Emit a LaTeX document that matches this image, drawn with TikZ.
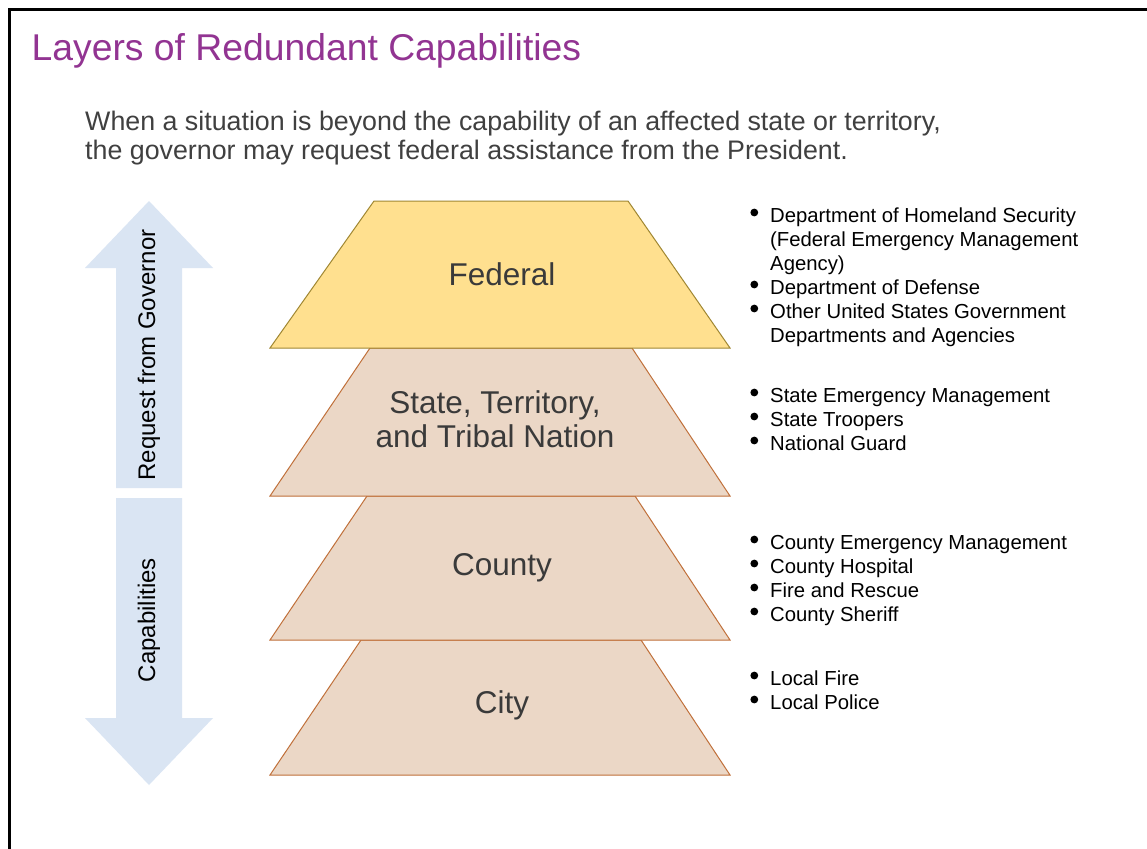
\documentclass[tikz,border=0pt]{standalone}
\usepackage{fontspec}
\setmainfont{Liberation Sans}
\definecolor{titlepurple}{RGB}{146,52,146}
\definecolor{subgray}{RGB}{64,64,64}
\definecolor{labelgray}{RGB}{58,58,58}
\definecolor{arrowblue}{RGB}{218,229,243}
\definecolor{fedfill}{RGB}{255,224,143}
\definecolor{fedline}{RGB}{160,135,50}
\definecolor{lvlfill}{RGB}{235,215,198}
\definecolor{lvlline}{RGB}{192,112,58}
\newcommand{\myfs}[2]{\fontsize{#1}{#2}\selectfont}
\newcommand{\ind}{\hspace*{21pt}}
\tikzset{
  fedtrap/.style={fill=fedfill, draw=fedline, line width=1pt, line join=miter},
  lvltrap/.style={fill=lvlfill, draw=lvlline, line width=1pt, line join=miter},
  bigarrow/.style={fill=arrowblue, draw=none},
  levellabel/.style={anchor=base, inner sep=0pt, text=labelgray, font=\myfs{31.5}{34}},
  arrowlabel/.style={rotate=90, inner sep=0pt, text=black, font=\myfs{24}{28}},
  listnode/.style={anchor=base west, inner sep=0pt, text=black, font=\myfs{20.3}{24}},
  subtext/.style={anchor=base west, inner sep=0pt, text=subgray, font=\myfs{26.8}{30}},
  bulletdot/.style={fill=black}
}
\begin{document}
\begin{tikzpicture}[x=1pt,y=-1pt]
\useasboundingbox (0,0) rectangle (1147,848);
\clip (0,0) rectangle (1147,848);
\fill[white] (0,0) rectangle (1147,848);
% slide frame
\draw[line width=3pt, black] (9,900) -- (9,9.5) -- (1200,9.5);

% title and subtitle
\node[anchor=base west, inner sep=0pt, text=titlepurple, font=\myfs{37.3}{44}] (title) at (31.5,61) {Layers of Redundant Capabilities};
\node[subtext] (sub1) at (85,131) {When a situation is beyond the capability of an affected state or territory,};
\node[subtext] (sub2) at (85,159) {the governor may request federal assistance from the President.};

% side arrows
\fill[bigarrow] (149,201) -- (213,268) -- (182,268) -- (182,488) -- (116,488) -- (116,268) -- (85,268) -- cycle;
\fill[bigarrow] (116,498) -- (182,498) -- (182,718) -- (213,718) -- (149,785) -- (85,718) -- (116,718) -- cycle;
\node[arrowlabel] (req) at (149,355) {Request from Governor};
\node[arrowlabel] (cap) at (149,620) {Capabilities};

% levels (bottom first so upper outlines sit on top)
\draw[lvltrap] (361,640) -- (641,640) -- (730,775) -- (270,775) -- cycle;
\draw[lvltrap] (367,496) -- (635,496) -- (730,640) -- (270,640) -- cycle;
\draw[lvltrap] (370,348) -- (632,348) -- (730,496) -- (270,496) -- cycle;
\draw[fedtrap] (374,201) -- (628,201) -- (730,348) -- (270,348) -- cycle;

\node[levellabel] (federal) at (502,285) {Federal};
\node[levellabel] (state) at (495,413) {\begin{tabular}[t]{@{}c@{}}State, Territory,\\ and Tribal Nation\end{tabular}};
\node[levellabel] (county) at (502,575) {County};
\node[levellabel] (city) at (502,713) {City};

% lists
\node[listnode] (fedlist) at (749,222) {\begin{tabular}[t]{@{}l@{}}\ind Department of Homeland Security\\ \ind (Federal Emergency Management\\ \ind Agency)\\ \ind Department of Defense\\ \ind Other United States Government\\ \ind Departments and Agencies\end{tabular}};
\node[listnode] (statelist) at (749,402) {\begin{tabular}[t]{@{}l@{}}\ind State Emergency Management\\ \ind State Troopers\\ \ind National Guard\end{tabular}};
\node[listnode] (countylist) at (749,549) {\begin{tabular}[t]{@{}l@{}}\ind County Emergency Management\\ \ind County Hospital\\ \ind Fire and Rescue\\ \ind County Sheriff\end{tabular}};
\node[listnode] (citylist) at (749,685) {\begin{tabular}[t]{@{}l@{}}\ind Local Fire\\ \ind Local Police\end{tabular}};

% bullets
\foreach \by in {222,294,318,402,426,450,549,573,597,621,685,709}
  \fill[bulletdot] (754.3,\by-9.5) circle (3.9pt);
\end{tikzpicture}
\end{document}
